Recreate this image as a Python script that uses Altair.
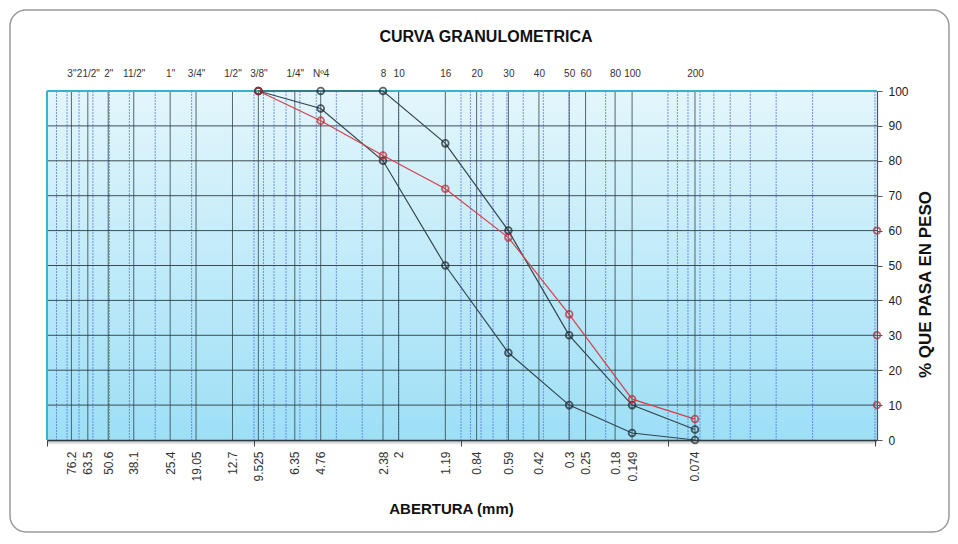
import altair as alt
import pandas as pd

# ---------------- data ----------------
sieve_mm = [76.2, 63.5, 50.6, 38.1, 25.4, 19.05, 12.7, 9.525, 6.35, 4.76,
            2.38, 2, 1.19, 0.84, 0.59, 0.42, 0.3, 0.25, 0.18, 0.149, 0.074]
sieve_names = ['3"', '21/2"', '2"', '11/2"', '1"', '3/4"', '1/2"', '3/8"', '1/4"', 'Nº4',
               '8', '10', '16', '20', '30', '40', '50', '60', '80', '100', '200']

abertura = [9.525, 4.76, 2.38, 1.19, 0.59, 0.3, 0.149, 0.074]
limite_superior = [100, 100, 100, 85, 60, 30, 10, 3]
limite_inferior = [100, 95, 80, 50, 25, 10, 2, 0]
muestra = [100, 91.5, 81.5, 72, 58, 36, 11.7, 6]
marcas_eje = [60, 30, 10]

porcentajes = [10, 20, 30, 40, 50, 60, 70, 80, 90]
y_ticks = [0, 10, 20, 30, 40, 50, 60, 70, 80, 90, 100]
decadas = [100, 10, 1, 0.1, 0.01]
minor_grid = [m * 10 ** e for e in (-2, -1, 0, 1) for m in range(1, 10)]

X_MIN, X_MAX = 0.00977, 100
W, H = 830, 349
FONT = "Liberation Sans, Arial, sans-serif"

xs = alt.Scale(type="log", domain=[X_MIN, X_MAX], reverse=True, nice=False)
ys = alt.Scale(domain=[0, 100], nice=False, zero=False)

curves = pd.concat([
    pd.DataFrame({"mm": abertura, "pct": limite_superior, "serie": "sup"}),
    pd.DataFrame({"mm": abertura, "pct": limite_inferior, "serie": "inf"}),
    pd.DataFrame({"mm": abertura, "pct": muestra, "serie": "muestra"}),
], ignore_index=True)

dummy = pd.DataFrame({"a": [0]})

# ---------------- layers ----------------
frame = alt.Chart(dummy).mark_rect(
    fill="transparent", stroke="#9a9a9a", strokeWidth=1.5, cornerRadius=16
).encode(x=alt.value(-37), x2=alt.value(W + 72), y=alt.value(-81), y2=alt.value(H + 92))

shadow = alt.Chart(dummy).mark_rect(
    fill=alt.Gradient(
        gradient="linear",
        stops=[alt.GradientStop(color="#8a8a8a", offset=0),
               alt.GradientStop(color="#ffffff", offset=1)],
        x1=0, x2=0, y1=0, y2=1),
    opacity=0.7,
).encode(x=alt.value(0), x2=alt.value(W), y=alt.value(H), y2=alt.value(H + 5))

gradient = alt.Gradient(
    gradient="linear",
    stops=[alt.GradientStop(color="#e3f6fc", offset=0),
           alt.GradientStop(color="#9ddff6", offset=1)],
    x1=0, x2=0, y1=0, y2=1,
)
bg = alt.Chart(pd.DataFrame({"x": [X_MAX], "x2": [X_MIN], "y": [100], "y2": [0]})).mark_rect(
    fill=gradient
).encode(
    x=alt.X("x:Q", scale=xs, axis=None), x2="x2:Q",
    y=alt.Y("y:Q", scale=ys, axis=None), y2="y2:Q",
)

minor = alt.Chart(pd.DataFrame({"mm": minor_grid})).mark_rule(
    color="#4a66ee", strokeWidth=1, strokeDash=[2, 1], opacity=0.7
).encode(
    x=alt.X("mm:Q", scale=xs, axis=alt.Axis(
        orient="bottom", values=decadas, labels=False, ticks=True, tickSize=6,
        tickColor="#444", domain=True, domainColor="#2c3c42", domainWidth=1.5,
        grid=False, title=None, zindex=1)),
)

top_expr = ":".join(
    f"abs(datum.value-{v})<1e-9?'{n}'" for v, n in zip(sieve_mm, sieve_names)
) + ":''"

sieves = alt.Chart(pd.DataFrame({"mm": sieve_mm})).mark_rule(
    color="#3b4d54", strokeWidth=1, opacity=0.85
).encode(
    x=alt.X("mm:Q", scale=xs, axis=alt.Axis(
        orient="bottom", values=sieve_mm, labelExpr="format(datum.value, '.4~f')",
        labelAngle=270, labelFontSize=12, labelColor="#333", labelPadding=11,
        labelOverlap=False, labelFlush=False, labelBound=False,
        ticks=False, tickSize=0, domain=False, grid=False,
        title="ABERTURA (mm)", titleFontSize=15, titleFontWeight="bold", titleColor="#111",
        titleX=404, titleY=68, titleAlign="center", titleBaseline="middle", zindex=1)),
)

hgrid = alt.Chart(pd.DataFrame({"pct": porcentajes})).mark_rule(
    color="#2c3d44", strokeWidth=1, opacity=0.9
).encode(
    y=alt.Y("pct:Q", scale=ys, axis=alt.Axis(
        orient="right", values=y_ticks, grid=False, tickSize=5, tickColor="#555",
        domain=True, domainColor="#4a5a60", domainWidth=1.2,
        labelFontSize=12, labelColor="#222", labelPadding=6,
        title="% QUE PASA EN PESO", titleFontSize=17, titleFontWeight="bold",
        titleColor="#111", titleAngle=270, titleX=48, titleY=193,
        titleAlign="center", titleBaseline="middle", zindex=1)),
)

top_border = alt.Chart(pd.DataFrame({"pct": [100]})).mark_rule(
    color="#3cb1cd", strokeWidth=2
).encode(y=alt.Y("pct:Q", scale=ys, axis=None))
left_border = alt.Chart(pd.DataFrame({"mm": [X_MAX]})).mark_rule(
    color="#3cb1cd", strokeWidth=2
).encode(x=alt.X("mm:Q", scale=xs, axis=None))

series_scale = alt.Scale(domain=["sup", "inf", "muestra"],
                         range=["#34464d", "#34464d", "#d6404b"])
point_scale = alt.Scale(domain=["sup", "inf", "muestra"],
                        range=["#17232a", "#17232a", "#c4232f"])

lines = alt.Chart(curves).mark_line(strokeWidth=1.2).encode(
    x=alt.X("mm:Q", scale=xs, axis=alt.Axis(
        orient="top", values=sieve_mm, labelExpr=top_expr, labelAngle=0,
        labelFontSize=10, labelColor="#333", labelPadding=13,
        labelOverlap=False, labelFlush=False, labelBound=False,
        ticks=False, tickSize=0, domain=False, grid=False, title=None, zindex=1)),
    y=alt.Y("pct:Q", scale=ys, axis=None),
    color=alt.Color("serie:N", scale=series_scale, legend=None),
    detail="serie:N",
)

points = alt.Chart(curves).mark_point(
    shape="circle", filled=False, size=46, strokeWidth=1.8
).encode(
    x=alt.X("mm:Q", scale=xs, axis=None),
    y=alt.Y("pct:Q", scale=ys, axis=None),
    color=alt.Color("serie:N", scale=point_scale, legend=None),
)

side = alt.Chart(pd.DataFrame({"mm": [X_MIN] * len(marcas_eje), "pct": marcas_eje})).mark_point(
    shape="circle", filled=False, size=44, strokeWidth=1.8, color="#b8232e"
).encode(
    x=alt.X("mm:Q", scale=xs, axis=None),
    y=alt.Y("pct:Q", scale=ys, axis=None),
)

title = alt.Chart(dummy).mark_text(
    text="CURVA GRANULOMETRICA", font=FONT, fontSize=16, fontWeight="bold",
    color="#111", align="center", baseline="middle"
).encode(x=alt.value(439), y=alt.value(-54))

chart = alt.layer(
    frame, shadow, bg, minor, sieves, hgrid, top_border, left_border, lines, points, side, title
).resolve_axis(x="independent", y="independent").resolve_scale(color="independent").properties(
    width=W, height=H,
    padding={"left": 39, "top": 83, "right": 73, "bottom": 94},
    autosize=alt.AutoSizeParams(type="none"),
).configure_view(stroke=None).configure_axis(labelFont=FONT, titleFont=FONT)

chart.save("out.html", embed_options={"renderer": "svg", "actions": False})
